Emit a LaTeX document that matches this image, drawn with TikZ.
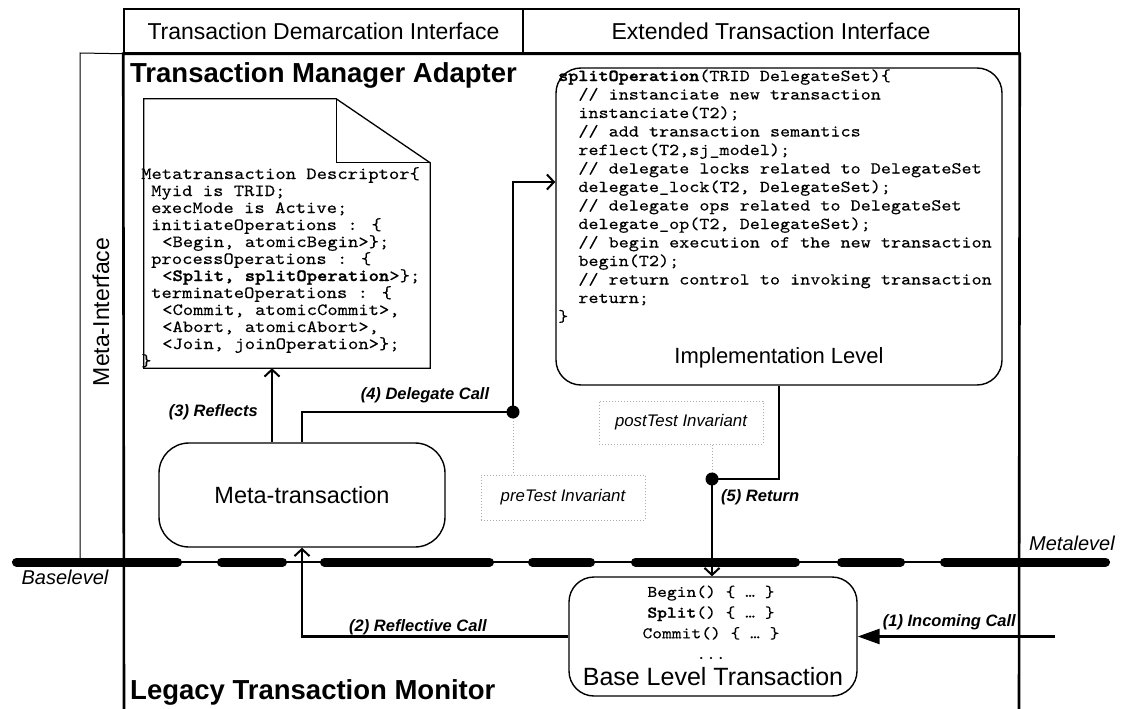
\documentclass[tikz,border=0pt]{standalone}
\usepackage{fontspec}
\setmainfont{Liberation Sans}
\newfontfamily\codefont{lmmono10-regular}[Extension=.otf, BoldFont=lmmonolt10-bold,
  FakeStretch=1.15, UprightFeatures={FakeBold=0.2}, BoldFeatures={FakeBold=1.4}]
\usetikzlibrary{arrows.meta,calc}
\newcommand\tind{\hspace*{20.2pt}}
\newcommand\codesize[2]{\codefont\fontsize{#1}{#2}\selectfont\lineskiplimit=-100pt\relax}
\begin{document}
\begin{tikzpicture}[x=1pt,y=-1pt,
  frame/.style={line width=2.6pt},
  thinline/.style={line width=1pt},
  rbox/.style={draw, line width=1.4pt, rounded corners=#1, inner sep=0pt},
  invbox/.style={draw=gray!65, dotted, line width=1pt, inner sep=0pt,
    minimum width=164pt, minimum height=45pt,
    font=\fontsize{16.8}{18}\selectfont\itshape},
  conn/.style={line width=2.6pt},
  barb/.style={-{Straight Barb[length=7pt,width=15pt,line width=2pt]}},
  lbl/.style={font=\fontsize{16.5}{18}\selectfont\bfseries\itshape, inner sep=0pt},
  title/.style={anchor=base west, inner sep=0pt, font=\fontsize{27.5}{30}\selectfont\bfseries},
  hint/.style={draw=gray!65, dotted, line width=1pt}
]
\useasboundingbox[fill=white] (0,0) rectangle (1125,709);

% interface headers
\node[draw, line width=1.5pt, minimum width=399pt, minimum height=44pt, inner sep=0pt,
  font=\fontsize{23}{26}\selectfont] (tdi) at (323.5,31) {Transaction Demarcation Interface};
\node[draw, line width=1.5pt, minimum width=496pt, minimum height=44pt, inner sep=0pt,
  font=\fontsize{23}{26}\selectfont] (eti) at (771,31) {Extended Transaction Interface};

% meta-interface strip
\draw[thinline] (tdi.south west) -- (80,53) -- (80,562);
\node[rotate=90, font=\fontsize{23}{26}\selectfont] (mi) at (101,312) {Meta-Interface};

% level separator
\draw[line width=2.5pt] (12,562) -- (1110,562);
\foreach \a/\b in {12/182,217/287,320/494,528/595,631/800,837/905,940/1110}
  \draw[line width=9pt, line cap=round] (\a+4.5,562) -- (\b-4.5,562);
\node[font=\fontsize{20}{22}\selectfont\itshape] (metalevel) at (1072,543) {Metalevel};
\node[font=\fontsize{20}{22}\selectfont\itshape] (baselevel) at (65,577) {Baselevel};

% adapter frame
\draw[frame] (124,709) -- (tdi.south west) -- (eti.south east) -- (1019,709);
\node[title] (tma) at (130,83) {Transaction Manager Adapter};
\node[title] (ltm) at (130,699) {Legacy Transaction Monitor};

% metatransaction descriptor (folded page); text nodes are placed by their last baseline
\node[minimum width=286pt, minimum height=269pt, inner sep=0pt] (doc) at (287,233.5) {};
\coordinate (fold) at ($(doc.north east)+(-94,64)$);
\draw[line width=1.3pt] (doc.north west) -- (doc.north west -| fold) -- (fold -| doc.east)
  -- (doc.south east) -- (doc.south west) -- cycle;
\draw[line width=1.3pt] (doc.north west -| fold) -- (fold) -- (fold -| doc.east);
\node[anchor=base west, inner sep=0pt, align=left,
  font=\codesize{17.1}{17}] (doctext) at (141,366) {%
Metatransaction Descriptor\{\\
\hspace*{10pt}Myid is TRID;\\
\hspace*{10pt}execMode is Active;\\
\hspace*{10pt}initiateOperations : \{\\
\hspace*{21pt}<Begin, atomicBegin>\};\\
\hspace*{10pt}processOperations : \{\\
\hspace*{21pt}<\textbf{Split, splitOperation}>\};\\
\hspace*{10pt}terminateOperations : \{\\
\hspace*{21pt}<Commit, atomicCommit>,\\
\hspace*{21pt}<Abort, atomicAbort>,\\
\hspace*{21pt}<Join, joinOperation>\};\\
\}};

% implementation level
\node[rbox=25pt, minimum width=446pt, minimum height=317pt] (impl) at (779,226.5) {};
\node[anchor=base west, inner sep=0pt, align=left,
  font=\codesize{16.7}{18.5}] (implcode) at (558,321.5) {%
\textbf{splitOperation}(TRID DelegateSet)\{\\
\tind// instanciate new transaction\\
\tind instanciate(T2);\\
\tind// add transaction semantics\\
\tind reflect(T2,sj\_model);\\
\tind// delegate locks related to DelegateSet\\
\tind delegate\_lock(T2, DelegateSet);\\
\tind// delegate ops related to DelegateSet\\
\tind delegate\_op(T2, DelegateSet);\\
\tind// begin execution of the new transaction\\
\tind begin(T2);\\
\tind// return control to invoking transaction\\
\tind return;\\
\}};
\node[font=\fontsize{22}{24}\selectfont] (impllabel) at (779,358) {Implementation Level};

% meta-transaction
\node[rbox=30pt, minimum width=286pt, minimum height=104pt,
  font=\fontsize{23.5}{26}\selectfont] (meta) at (302,495) {Meta-transaction};

% base level transaction
\node[rbox=25pt, minimum width=288pt, minimum height=119pt] (base) at (713,636.5) {};
\node[anchor=base, inner sep=0pt, align=center,
  font=\codesize{16.2}{20.7}] (basecode) at (711,659) {%
Begin() \{ … \}\\
\textbf{Split}() \{ … \}\\
Commit() \{ … \}\\
...};
\node[font=\fontsize{25}{27}\selectfont] (baselabel) at (713,677) {Base Level Transaction};

% invariants
\node[invbox] (pre) at (563,497.5) {preTest Invariant};
\node[invbox, minimum height=43pt] (post) at (681,422.5) {postTest Invariant};

% junction points and free ends
\coordinate (dot1) at (513,412);
\coordinate (dot2) at (712,479);
\coordinate (dtarget) at (impl.west |- 0,182);
\coordinate (incoming) at (1055,636.5);

\draw[hint] (dot1) -- (dot1 |- pre.north);
\draw[hint] (post.south -| dot2) -- (dot2);

% calls
\draw[conn, barb] ([xshift=-30pt]meta.north) -- ([xshift=-30pt]meta.north |- doc.south);
\draw[conn, barb] (meta.north) |- (dot1) |- (dtarget);
\draw[conn, barb] (impl.south) |- (dot2) -- (dot2 |- base.north);
\draw[conn, barb] (base.west) -| (meta.south);
\draw[conn, -{Triangle[length=22pt,width=15pt]}] (incoming) -- (base.east);
\fill (dot1) circle[radius=6.5pt];
\fill (dot2) circle[radius=6.5pt];

% call labels
\node[lbl, anchor=east] (l3) at (258,412) {(3) Reflects};
\node[lbl] (l4) at (425,395) {(4) Delegate Call};
\node[lbl] (l2) at (418,627) {(2) Reflective Call};
\node[lbl, anchor=east] (l1) at (1016,622) {(1) Incoming Call};
\node[lbl, anchor=west] (l5) at (721,497) {(5) Return};
\end{tikzpicture}
\end{document}
